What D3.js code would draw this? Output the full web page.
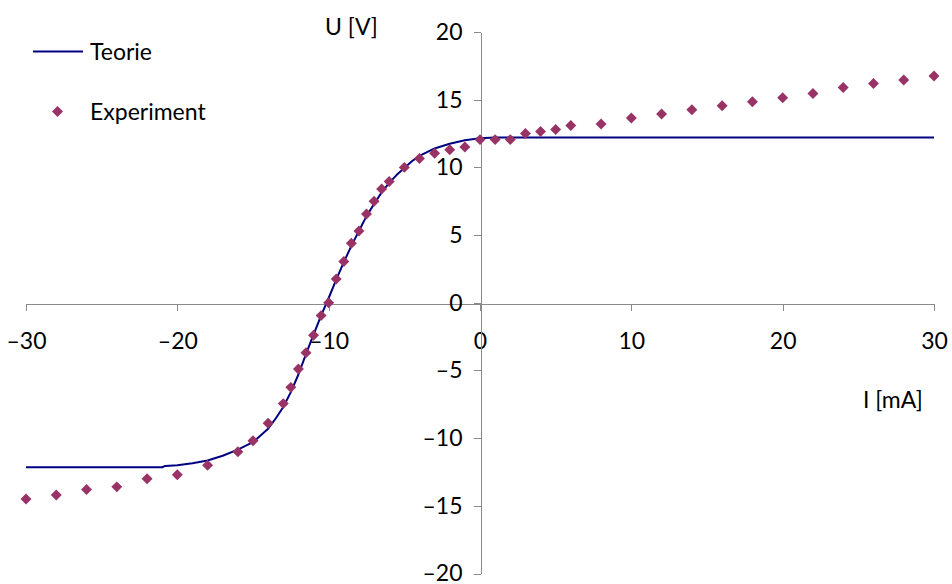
<!DOCTYPE html>
<html>
<head>
<meta charset="utf-8">
<script src="https://cdn.jsdelivr.net/npm/d3@7"></script>
<style>
  html, body { margin: 0; padding: 0; background: #fff; }
  svg { display: block; }
  text { font-family: Lato, "Open Sans", sans-serif; fill: #000; }
</style>
</head>
<body>
<svg id="chart" width="952" height="584"></svg>
<script>
// ---- Data ----
const xTicks = [-30, -20, -10, 0, 10, 20, 30];
const yTicks = [-20, -15, -10, -5, 0, 5, 10, 15, 20];

// Teorie (theory curve)
const theoryI = [-30, -21, -20.8, -20, -19, -18, -17, -16, -15, -14.5, -14, -13.5, -13, -12.5, -12, -11.5, -11, -10.5, -10, -9.5, -9, -8.5, -8, -7.5, -7, -6.5, -6, -5.5, -5, -4.5, -4, -3, -2, -1, 0, 1, 30];
const theoryU = [-12.15, -12.15, -12.05, -12.0, -11.85, -11.65, -11.3, -10.85, -10.3, -9.8, -9.3, -8.55, -7.7, -6.6, -5.3, -3.8, -2.35, -0.95, 0.35, 1.7, 3.0, 4.2, 5.3, 6.4, 7.3, 8.15, 8.85, 9.45, 9.95, 10.45, 10.85, 11.4, 11.75, 12.0, 12.15, 12.2, 12.2];

// Experiment (measured points)
const expI = [-30, -28, -26, -24, -22, -20, -18, -16, -15, -14, -13, -12.5, -12, -11.5, -11, -10.5, -10, -9.5, -9, -8.5, -8, -7.5, -7, -6.5, -6, -5, -4, -3, -2, -1, 0, 1, 2, 3, 4, 5, 6, 8, 10, 12, 14, 16, 18, 20, 22, 24, 26, 28, 30];
const expU = [-14.5, -14.2, -13.8, -13.6, -13.0, -12.7, -12.0, -11.0, -10.2, -8.9, -7.45, -6.25, -4.9, -3.7, -2.4, -0.95, 0.0, 1.75, 3.05, 4.4, 5.3, 6.55, 7.5, 8.4, 8.95, 10.0, 10.65, 11.05, 11.3, 11.5, 12.05, 12.05, 12.05, 12.5, 12.65, 12.8, 13.1, 13.2, 13.65, 13.95, 14.25, 14.55, 14.85, 15.15, 15.45, 15.9, 16.2, 16.45, 16.75];

const seriesNames = ["Teorie", "Experiment"];
const xTitle = "I [mA]";
const yTitle = "U [V]";

// ---- Drawing ----
const svg = d3.select("#chart");
const x = d3.scaleLinear().domain([-30, 30]).range([26, 934]);
const y = d3.scaleLinear().domain([-20, 20]).range([573.5, 32]);

const fmt = d => d < 0 ? "\u2013" + Math.abs(d) : String(d);
const axisColor = "#8a8a8a";
const fontSize = 23;

const x0 = Math.round(x(0)) + 0.5;
const y0 = Math.round(y(0)) + 0.5;

// X axis
const gx = svg.append("g")
  .attr("transform", `translate(0,${y0})`)
  .call(d3.axisBottom(x).tickValues(xTicks).tickFormat(fmt).tickSizeInner(7).tickSizeOuter(0).tickPadding(22));
gx.selectAll("path, line").attr("stroke", axisColor).attr("shape-rendering", "crispEdges");
gx.selectAll("text").attr("font-size", fontSize).attr("font-family", "Lato, 'Open Sans', sans-serif").attr("fill", "#000");

// Y axis
const gy = svg.append("g")
  .attr("transform", `translate(${x0},0)`)
  .call(d3.axisLeft(y).tickValues(yTicks).tickFormat(fmt).tickSizeInner(7).tickSizeOuter(0).tickPadding(11));
gy.selectAll("path, line").attr("stroke", axisColor).attr("shape-rendering", "crispEdges");
gy.selectAll("text").attr("font-size", fontSize).attr("font-family", "Lato, 'Open Sans', sans-serif").attr("fill", "#000");

// Theory line
const theory = theoryI.map((v, i) => [v, theoryU[i]]);
svg.append("path")
  .datum(theory)
  .attr("fill", "none")
  .attr("stroke", "#000080")
  .attr("stroke-width", 2)
  .attr("stroke-linejoin", "round")
  .attr("d", d3.line().x(d => x(d[0])).y(d => y(d[1])));

// Experiment points
const expData = expI.map((v, i) => [v, expU[i]]);
const diamond = d3.symbol(d3.symbolSquare, 60);
svg.append("g").selectAll("path")
  .data(expData)
  .join("path")
  .attr("d", diamond)
  .attr("fill", "#993366")
  .attr("transform", d => `translate(${x(d[0])},${y(d[1])}) rotate(45)`);

// Axis titles
svg.append("text").attr("x", 325).attr("y", 35).attr("font-size", fontSize).text(yTitle);
svg.append("text").attr("x", 863).attr("y", 408).attr("font-size", fontSize).text(xTitle);

// Legend
svg.append("line").attr("x1", 33).attr("x2", 83).attr("y1", 51.5).attr("y2", 51.5)
  .attr("stroke", "#000080").attr("stroke-width", 2);
svg.append("text").attr("x", 90).attr("y", 60).attr("font-size", fontSize).text(seriesNames[0]);
svg.append("path").attr("d", diamond).attr("fill", "#993366")
  .attr("transform", "translate(57.5,111.5) rotate(45)");
svg.append("text").attr("x", 90).attr("y", 120).attr("font-size", fontSize).text(seriesNames[1]);
</script>
</body>
</html>
